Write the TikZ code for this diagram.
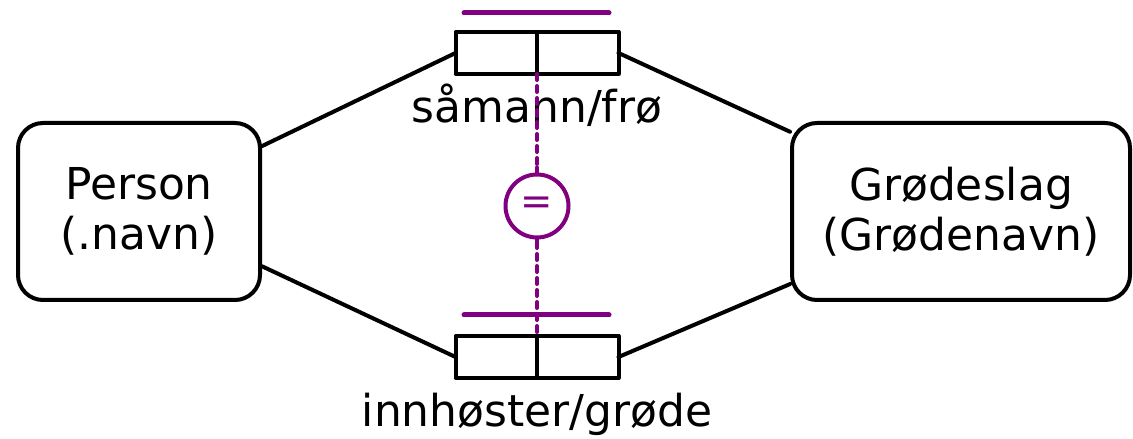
\documentclass[tikz,border=0pt]{standalone}
\usepackage{fontspec}
\setmainfont{DejaVu Sans}
\usetikzlibrary{positioning}
\definecolor{constraint}{RGB}{128,0,128}
\tikzset{
  entity/.style={draw,line width=0.08cm,rounded corners=0.5cm,align=center,
    font=\fontsize{25}{28.5}\selectfont},
  rolebox/.style={draw,line width=0.08cm,minimum width=1.63cm,minimum height=0.84cm,
    inner sep=0pt,outer sep=0pt},
  rolename/.style={anchor=base,font=\fontsize{25}{28.5}\selectfont},
  conn/.style={line width=0.08cm},
  bar/.style={constraint,line width=0.1cm},
  dots/.style={constraint,line width=0.08cm,dash pattern=on 0.12cm off 0.12cm},
  eqcircle/.style={circle,draw=constraint,fill=white,line width=0.08cm,
    minimum size=1.26cm,inner sep=0pt,text=constraint,
    font=\fontsize{22}{22}\selectfont}
}
\begin{document}
\begin{tikzpicture}[line cap=round,line join=round]
  \useasboundingbox (0,0) rectangle (22.66,8.78);
  % entities
  \node[entity,minimum width=4.84cm,minimum height=3.54cm] (person) at (2.78,4.55) {Person\\(.navn)};
  \node[entity,minimum width=6.76cm,minimum height=3.54cm] (crop) at (19.22,4.55) {Grødeslag\\(Grødenavn)};
  % fact types
  \node[rolebox] (sowa) at (9.925,7.72) {};
  \node[rolebox,right=0pt of sowa] (sowb) {};
  \node[rolebox] (harva) at (9.925,1.64) {};
  \node[rolebox,right=0pt of harva] (harvb) {};
  \node[rolename] (sowname) at (10.74,6.32) {såmann/frø};
  \node[rolename] (harvname) at (10.74,0.24) {innhøster/grøde};
  \draw[conn] (person.28) -- (sowa.west);
  \draw[conn] (sowb.east) -- (crop.155);
  \draw[conn] (person.-24) -- (harva.west);
  \draw[conn] (harvb.east) -- (crop.203);
  % equality constraint
  \draw[bar] (9.28,8.52) -- (12.18,8.52);
  \draw[bar] (9.28,2.48) -- (12.18,2.48);
  \draw[dots] (sowa.south east) -- (harva.north east);
  \node[eqcircle] (eq) at (10.74,4.66) {=};
  \draw[constraint,line width=0.08cm] (eq.north) -- ++(0,0.1);
  \draw[constraint,line width=0.08cm] (eq.south) -- ++(0,-0.1);
\end{tikzpicture}
\end{document}
